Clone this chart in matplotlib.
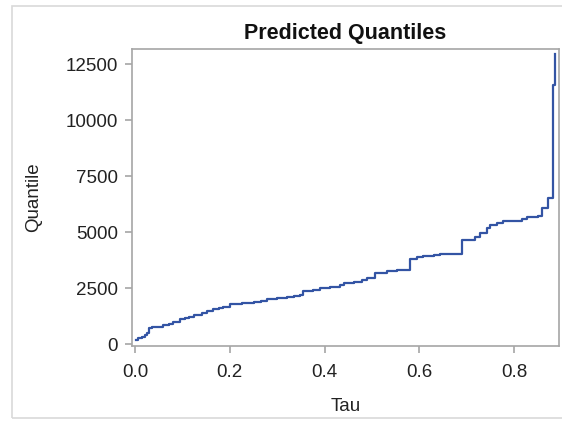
import matplotlib
matplotlib.use("Agg")
import matplotlib.pyplot as plt
from matplotlib.patches import Rectangle

plt.rcParams['font.family'] = ['Liberation Sans', 'DejaVu Sans']

title = "Predicted Quantiles"
x_label = "Tau"
y_label = "Quantile"

tau = [0.002, 0.007, 0.014, 0.021, 0.025, 0.030, 0.035, 0.045, 0.060, 0.072,
       0.081, 0.095, 0.105, 0.113, 0.125, 0.141, 0.152, 0.165, 0.178, 0.186,
       0.200, 0.225, 0.250, 0.265, 0.278, 0.299, 0.320, 0.335, 0.348, 0.355,
       0.375, 0.390, 0.411, 0.432, 0.440, 0.461, 0.478, 0.489, 0.506, 0.531,
       0.552, 0.580, 0.594, 0.608, 0.630, 0.643, 0.689, 0.717, 0.728, 0.742,
       0.749, 0.763, 0.777, 0.816, 0.826, 0.851, 0.858, 0.872, 0.881, 0.886]
quantile = [180, 250, 330, 400, 500, 700, 745, 760, 850, 900,
            1000, 1100, 1150, 1220, 1300, 1400, 1460, 1550, 1610, 1670,
            1790, 1830, 1890, 1930, 1990, 2040, 2090, 2130, 2190, 2380,
            2400, 2490, 2530, 2630, 2740, 2790, 2860, 2930, 3180, 3260,
            3310, 3780, 3870, 3930, 3975, 4020, 4640, 4790, 4940, 5160,
            5310, 5420, 5500, 5565, 5650, 5720, 6070, 6520, 11560, 12950]

x_ticks = [0.0, 0.2, 0.4, 0.6, 0.8]
x_tick_labels = ["0.0", "0.2", "0.4", "0.6", "0.8"]
y_ticks = [0, 2500, 5000, 7500, 10000, 12500]
y_tick_labels = ["0", "2500", "5000", "7500", "10000", "12500"]

fig = plt.figure(figsize=(5.62, 4.23), dpi=100)
fig.patch.set_facecolor('white')
# light frame around the graph
fig.patches.append(Rectangle((11.5 / 562, 1 - 418 / 423), 1.2, (418 - 6) / 423,
                             transform=fig.transFigure, fill=False,
                             edgecolor='#d9d9d9', linewidth=1.2))

ax = fig.add_axes([131.7 / 562, 1 - 346 / 423, (559 - 131.7) / 562, (346 - 49) / 423])
ax.step(tau, quantile, where='post', color='#3354a4', linewidth=1.6)

ax.set_xlim(-0.007, 0.8945)
ax.set_ylim(-89, 13170)
ax.set_xticks(x_ticks)
ax.set_xticklabels(x_tick_labels)
ax.set_yticks(y_ticks)
ax.set_yticklabels(y_tick_labels)

for s in ax.spines.values():
    s.set_color('#a6a6a6')
    s.set_linewidth(1.2)
ax.tick_params(axis='both', colors='#a6a6a6', labelcolor='#222222',
               labelsize=13.5, length=5, width=1.2, direction='out')
ax.tick_params(axis='x', pad=8)
ax.tick_params(axis='y', pad=5)

ax.set_xlabel(x_label, fontsize=13.5, color='#222222', labelpad=12)
ax.set_ylabel(y_label, fontsize=13.5, color='#222222', labelpad=17)
ax.set_title(title, fontsize=15.5, fontweight='bold', color='#111111', pad=7)

fig.savefig("out.png", dpi=100, facecolor='white')
